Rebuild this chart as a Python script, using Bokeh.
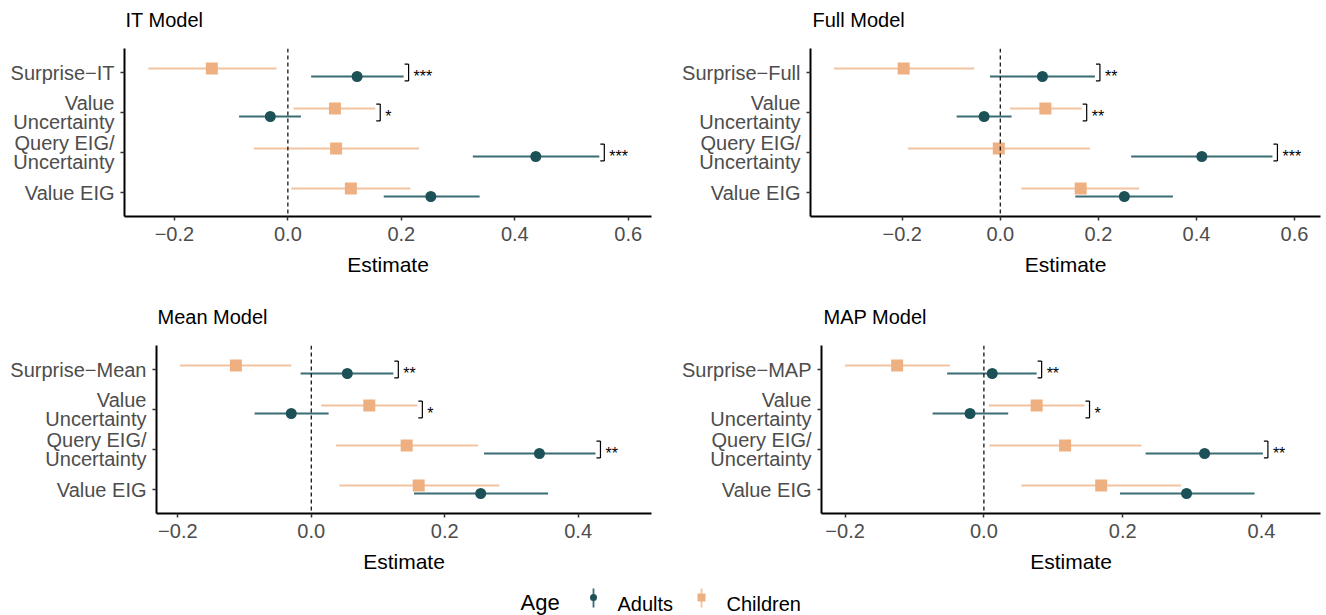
from bokeh.plotting import figure
from bokeh.layouts import column, row
from bokeh.models import ColumnDataSource, Range1d, FactorRange, FixedTicker, Span
from bokeh.transform import dodge
from bokeh.core.properties import value
from bokeh.embed import file_html
from bokeh.resources import INLINE

FONT = "Liberation Sans"
M = "\u2212"

# ---------------- data ----------------
x_ticks = [-0.2, 0.0, 0.2, 0.4, 0.6]
x_tick_labels = [M + "0.2", "0.0", "0.2", "0.4", "0.6"]

common_cats = ["Value\nUncertainty", "Query EIG/\nUncertainty", "Value EIG"]

it_cats = ["Surprise" + M + "IT"] + common_cats
it_adults_est = [0.122, -0.031, 0.437, 0.252]
it_adults_lo = [0.041, -0.086, 0.326, 0.169]
it_adults_hi = [0.204, 0.023, 0.549, 0.338]
it_children_est = [-0.134, 0.083, 0.085, 0.111]
it_children_lo = [-0.246, 0.010, -0.060, 0.006]
it_children_hi = [-0.020, 0.154, 0.231, 0.216]
it_sig = ["***", "*", "***", ""]

full_cats = ["Surprise" + M + "Full"] + common_cats
full_adults_est = [0.086, -0.033, 0.411, 0.253]
full_adults_lo = [-0.021, -0.089, 0.267, 0.153]
full_adults_hi = [0.193, 0.023, 0.555, 0.352]
full_children_est = [-0.197, 0.092, -0.003, 0.164]
full_children_lo = [-0.339, 0.020, -0.188, 0.043]
full_children_hi = [-0.053, 0.166, 0.183, 0.283]
full_sig = ["**", "**", "***", ""]

mean_cats = ["Surprise" + M + "Mean"] + common_cats
mean_adults_est = [0.054, -0.030, 0.342, 0.254]
mean_adults_lo = [-0.016, -0.085, 0.259, 0.154]
mean_adults_hi = [0.123, 0.026, 0.426, 0.355]
mean_children_est = [-0.113, 0.087, 0.143, 0.161]
mean_children_lo = [-0.197, 0.015, 0.037, 0.042]
mean_children_hi = [-0.030, 0.159, 0.250, 0.282]
mean_sig = ["**", "*", "**", ""]

map_cats = ["Surprise" + M + "MAP"] + common_cats
map_adults_est = [0.012, -0.020, 0.318, 0.292]
map_adults_lo = [-0.053, -0.074, 0.233, 0.196]
map_adults_hi = [0.076, 0.035, 0.402, 0.390]
map_children_est = [-0.125, 0.076, 0.117, 0.169]
map_children_lo = [-0.200, 0.007, 0.008, 0.054]
map_children_hi = [-0.049, 0.145, 0.227, 0.284]
map_sig = ["**", "*", "**", ""]

row1_titles = ["IT Model", "Full Model"]
row2_titles = ["Mean Model", "MAP Model"]
legend_title = "Age"
age_groups = ["Adults", "Children"]

ADULT_PT = "#1D5158"
ADULT_LN = "#3A6D73"
CHILD_PT = "#EEB081"
CHILD_LN = "#F2C3A0"
TXT_GREY = "#4D4D4D"
W = 1326


def strip(height):
    f = figure(width=W, height=height, output_backend="svg", toolbar_location=None,
               x_range=Range1d(0, W), y_range=Range1d(0, height),
               min_border=0, min_border_left=0, min_border_right=0,
               min_border_top=0, min_border_bottom=0)
    f.axis.visible = False
    f.grid.visible = False
    f.outline_line_color = None
    return f


def title_strip(height, titles, xs, baseline_y):
    f = strip(height)
    src = ColumnDataSource(dict(x=xs, y=[baseline_y] * len(xs), t=titles))
    f.text(x="x", y="y", text="t", source=src, text_font=value(FONT),
           text_font_size="20px", text_color="black", text_align="left",
           text_baseline="alphabetic")
    return f


def make_panel(cats, a_est, a_lo, a_hi, c_est, c_lo, c_hi, sig,
               xr, width, height, bl, br, bt, bb):
    frame_w = width - bl - br
    ppu = frame_w / (xr[1] - xr[0])
    p = figure(width=width, height=height, output_backend="svg",
               toolbar_location=None,
               x_range=Range1d(xr[0], xr[1]),
               y_range=FactorRange(factors=list(reversed(cats)),
                                   range_padding=0.1,
                                   range_padding_units="absolute"),
               min_border_left=bl, min_border_right=br,
               min_border_top=bt, min_border_bottom=bb)
    p.outline_line_color = None
    p.xgrid.grid_line_color = None
    p.ygrid.grid_line_color = None
    p.background_fill_color = "white"

    for ax in (p.xaxis, p.yaxis):
        ax.axis_line_color = "black"
        ax.axis_line_width = 2
        ax.major_tick_line_color = "#333333"
        ax.major_tick_line_width = 1.5
        ax.major_tick_out = 4
        ax.major_tick_in = 0
        ax.minor_tick_line_color = None
        ax.major_label_text_font = FONT
        ax.major_label_text_font_size = "20px"
        ax.major_label_text_color = TXT_GREY
    p.xaxis.ticker = FixedTicker(ticks=x_ticks)
    p.xaxis.major_label_overrides = dict(zip(x_ticks, x_tick_labels))
    p.xaxis.major_label_standoff = 6
    p.xaxis.axis_label = "Estimate"
    p.xaxis.axis_label_text_font = FONT
    p.xaxis.axis_label_text_font_size = "21px"
    p.xaxis.axis_label_text_font_style = "normal"
    p.xaxis.axis_label_text_color = "black"
    p.xaxis.axis_label_standoff = 9
    p.yaxis.major_label_standoff = 6
    p.yaxis.major_label_text_line_height = 0.9

    p.add_layout(Span(location=0, dimension="height", line_color="black",
                      line_dash="4 3", line_width=1.2))

    src = ColumnDataSource(dict(cat=cats, a_est=a_est, a_lo=a_lo, a_hi=a_hi,
                                c_est=c_est, c_lo=c_lo, c_hi=c_hi))
    yc = dodge("cat", 0.1, range=p.y_range)
    ya = dodge("cat", -0.1, range=p.y_range)
    p.segment(x0="c_lo", x1="c_hi", y0=yc, y1=yc, source=src,
              line_color=CHILD_LN, line_width=1.8)
    p.segment(x0="a_lo", x1="a_hi", y0=ya, y1=ya, source=src,
              line_color=ADULT_LN, line_width=1.8)
    p.scatter(x="c_est", y=yc, source=src, marker="square", size=12,
              fill_color=CHILD_PT, line_color=None)
    p.scatter(x="a_est", y=ya, source=src, marker="circle", size=11,
              fill_color=ADULT_PT, line_color=None)

    # significance brackets
    pad = 5.0 / ppu
    tick = 4.0 / ppu
    bc, bx, bx0, bs = [], [], [], []
    for c, ah, ch, s in zip(cats, a_hi, c_hi, sig):
        if s:
            xb = max(ah, ch) + pad
            bc.append(c); bx.append(xb); bx0.append(xb - tick); bs.append(s)
    bsrc = ColumnDataSource(dict(cat=bc, xb=bx, xb0=bx0, sig=bs))
    yt = dodge("cat", 0.21, range=p.y_range)
    yb = dodge("cat", -0.21, range=p.y_range)
    p.segment(x0="xb", x1="xb", y0=yb, y1=yt, source=bsrc,
              line_color="black", line_width=1.2)
    p.segment(x0="xb0", x1="xb", y0=yt, y1=yt, source=bsrc,
              line_color="black", line_width=1.2)
    p.segment(x0="xb0", x1="xb", y0=yb, y1=yb, source=bsrc,
              line_color="black", line_width=1.2)
    p.text(x="xb", y="cat", text="sig", source=bsrc, x_offset=5, y_offset=4,
           text_font=value(FONT), text_font_size="16px", text_color="black",
           text_align="left", text_baseline="middle")
    return p


# row 1: titles strip (0-40) + panels (40-290)
t1 = title_strip(40, row1_titles, [125, 812], 21)
p1 = make_panel(it_cats, it_adults_est, it_adults_lo, it_adults_hi,
                it_children_est, it_children_lo, it_children_hi, it_sig,
                (-0.288, 0.641), 660, 250, 124, 9, 8, 74)
p2 = make_panel(full_cats, full_adults_est, full_adults_lo, full_adults_hi,
                full_children_est, full_children_lo, full_children_hi, full_sig,
                (-0.387, 0.653), 666, 250, 150, 6, 8, 74)
# row 2: titles strip (290-330) + panels (330-580)
t2 = title_strip(40, row2_titles, [157, 823], 14)
p3 = make_panel(mean_cats, mean_adults_est, mean_adults_lo, mean_adults_hi,
                mean_children_est, mean_children_lo, mean_children_hi, mean_sig,
                (-0.232, 0.510), 660, 250, 156, 9, 15, 67)
p4 = make_panel(map_cats, map_adults_est, map_adults_lo, map_adults_hi,
                map_children_est, map_children_lo, map_children_hi, map_sig,
                (-0.234, 0.485), 666, 250, 161, 6, 15, 67)

# ---------------- legend (580-615) ----------------
leg = strip(35)
leg_title_src = ColumnDataSource(dict(x=[520], y=[13], t=[legend_title]))
leg.text(x="x", y="y", text="t", source=leg_title_src, text_font=value(FONT),
         text_font_size="22px", text_color="black", text_align="left",
         text_baseline="alphabetic")
leg_lab_src = ColumnDataSource(dict(x=[617, 726], y=[12, 12], t=age_groups))
leg.text(x="x", y="y", text="t", source=leg_lab_src, text_font=value(FONT),
         text_font_size="20px", text_color="black", text_align="left",
         text_baseline="alphabetic")
key_src = ColumnDataSource(dict(x=[593, 701], y0=[8, 8], y1=[27, 27], ym=[18, 18],
                                lc=[ADULT_LN, CHILD_LN], fc=[ADULT_PT, CHILD_PT],
                                mk=["circle", "square"], sz=[7, 8]))
leg.segment(x0="x", x1="x", y0="y0", y1="y1", source=key_src, line_color="lc",
            line_width=1.8)
leg.scatter(x="x", y="ym", source=key_src, marker="mk", size="sz", fill_color="fc",
            line_color=None)

layout = column(t1, row(p1, p2), t2, row(p3, p4), leg)
open("out.html", "w").write(file_html(layout, INLINE))
